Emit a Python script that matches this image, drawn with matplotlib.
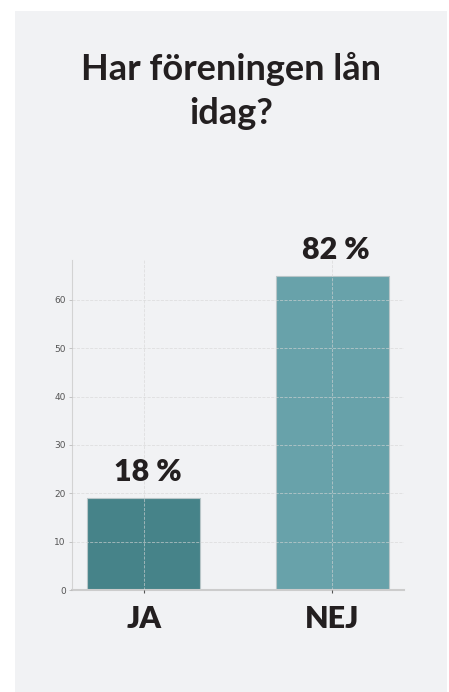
import matplotlib.pyplot as plt
from matplotlib.patches import Rectangle

categories = ["JA", "NEJ"]
values = [19, 65]
labels = ["18 %", "82 %"]
colors = ["#468389", "#68a2aa"]
yticks = [0, 10, 20, 30, 40, 50, 60]

bg = "#f1f2f4"

fig = plt.figure(figsize=(4.49, 6.92), dpi=100, facecolor="white")
fig.patches.append(Rectangle((15 / 449, 0), 432 / 449, 681 / 692,
                             transform=fig.transFigure, facecolor=bg,
                             edgecolor="none", zorder=-5))

ax = fig.add_axes([72 / 449, 102 / 692, 332 / 449, 330 / 692])
ax.set_facecolor(bg)

x = range(len(categories))
bars = ax.bar(x, values, width=0.6, color=colors, edgecolor="#b9c6c8",
              linewidth=0.8, zorder=1)

for xi, v, lab in zip(x, values, labels):
    ax.text(xi + 0.02, v + 3.5, lab, ha="center", va="baseline", fontsize=22,
            fontweight="heavy", family="Lato", color="#231f20")

ax.set_xticks(list(x))
ax.set_xticklabels(categories, fontsize=22, fontweight="heavy",
                   family="Lato", color="#231f20")
ax.set_yticks(yticks)
ax.tick_params(axis="y", labelsize=6.5, labelcolor="#555555", color="#bbbbbb",
               length=2.5, width=0.6, pad=2)
ax.tick_params(axis="x", length=2, color="#555555", pad=9)

ax.grid(True, linestyle="--", color="#d6d6d6", linewidth=0.6, alpha=0.7,
        zorder=2)
ax.set_axisbelow(False)

for s in ["top", "right"]:
    ax.spines[s].set_visible(False)
ax.spines["left"].set_color("#d3d3d3")
ax.spines["left"].set_linewidth(0.8)
ax.spines["bottom"].set_color("#cccccc")
ax.spines["bottom"].set_linewidth(1.5)

fig.text(231 / 449, 1 - 52 / 692, "Har föreningen lån\nidag?", ha="center",
         va="top", fontsize=26, fontweight="bold", family="Lato",
         color="#231f20", linespacing=1.4)

fig.savefig("out.png", dpi=100, facecolor=fig.get_facecolor())
